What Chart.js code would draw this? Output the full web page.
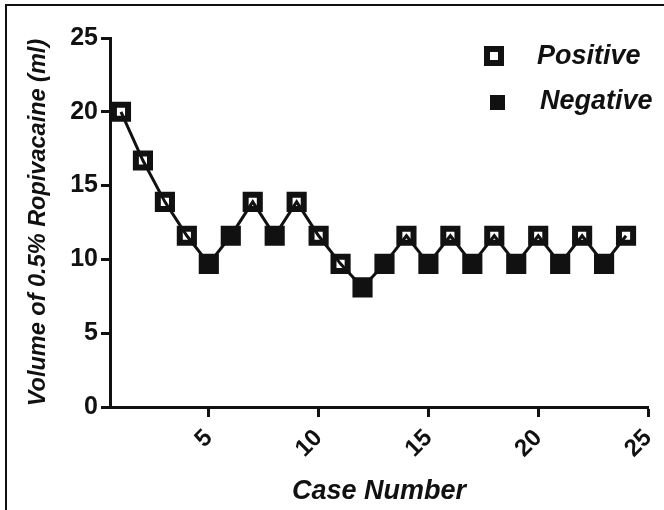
<!DOCTYPE html>
<html>
<head>
<meta charset="utf-8">
<script src="https://cdn.jsdelivr.net/npm/chart.js@4.4.1/dist/chart.umd.min.js"></script>
<style>
  html, body { margin: 0; padding: 0; background: #fff; }
  #wrap { width: 664px; height: 510px; }
</style>
</head>
<body>
<div id="wrap"><canvas id="upDownChart" width="664" height="510"></canvas></div>
<script>
var caseNumbers = [1, 2, 3, 4, 5, 6, 7, 8, 9, 10, 11, 12, 13, 14, 15, 16, 17, 18, 19, 20, 21, 22, 23, 24];
var volumes = [20, 16.7, 13.9, 11.6, 9.7, 11.6, 13.9, 11.6, 13.9, 11.6, 9.7, 8.1, 9.7, 11.6, 9.7, 11.6, 9.7, 11.6, 9.7, 11.6, 9.7, 11.6, 9.7, 11.6];
// P = positive block, N = negative block
var outcomes = ['P', 'P', 'P', 'P', 'N', 'N', 'P', 'N', 'P', 'P', 'P', 'N', 'N', 'P', 'N', 'P', 'N', 'P', 'N', 'P', 'N', 'P', 'N', 'P'];
var xTicks = [5, 10, 15, 20, 25];
var yTicks = [0, 5, 10, 15, 20, 25];

var FONT = '"Liberation Sans", Arial, sans-serif';

function pointsFor(code) {
    var out = [];
    caseNumbers.forEach(function (c, i) {
        if (outcomes[i] === code) out.push({ x: c, y: volumes[i] });
    });
    return out;
}

var allPoints = caseNumbers.map(function (c, i) { return { x: c, y: volumes[i] }; });

// legend at the top right + the frame on top/left edges
var sideLegend = {
    id: 'sideLegend',
    afterDraw: function (chart) {
        var ctx = chart.ctx;
        ctx.save();
        ctx.fillStyle = '#111';
        ctx.fillRect(5, 4, 659, 2);
        ctx.fillRect(5, 4, 2, 506);

        // Positive: hollow square
        ctx.fillRect(484, 46, 20, 20);
        ctx.fillStyle = '#fff';
        ctx.fillRect(490, 52, 8, 8);
        // Negative: filled square
        ctx.fillStyle = '#111';
        ctx.fillRect(490, 95, 15, 15);

        ctx.font = 'italic bold 27px ' + FONT;
        ctx.textBaseline = 'middle';
        ctx.textAlign = 'left';
        ctx.fillText(chart.data.datasets[0].label, 537, 57);
        ctx.fillText(chart.data.datasets[1].label, 540, 102);
        ctx.restore();
    }
};

new Chart(document.getElementById('upDownChart'), {
    type: 'scatter',
    data: {
        datasets: [{
                label: 'Positive',
                data: pointsFor('P'),
                pointStyle: 'rect',
                pointRadius: 10,
                pointHoverRadius: 10,
                borderWidth: 6,
                pointBorderWidth: 6,
                borderColor: '#111',
                backgroundColor: 'rgba(0,0,0,0)',
                showLine: false,
                order: 0
            },
            {
                label: 'Negative',
                data: pointsFor('N'),
                pointStyle: 'rect',
                pointRadius: 10,
                pointHoverRadius: 10,
                borderWidth: 6,
                pointBorderWidth: 6,
                borderColor: '#111',
                backgroundColor: '#111',
                showLine: false,
                order: 1
            },
            {
                label: 'Sequence',
                data: allPoints,
                showLine: true,
                borderColor: '#111',
                borderWidth: 3,
                pointRadius: 0,
                pointHoverRadius: 0,
                tension: 0,
                order: 2
            }
        ]
    },
    plugins: [sideLegend],
    options: {
        responsive: false,
        animation: false,
        events: [],
        layout: {
            padding: { left: 8, top: 38, right: 16, bottom: 0 }
        },
        plugins: {
            legend: { display: false },
            tooltip: { enabled: false },
            title: { display: false }
        },
        scales: {
            x: {
                type: 'linear',
                min: 0.5,
                max: 25,
                afterBuildTicks: function (scale) {
                    scale.ticks = xTicks.map(function (v) { return { value: v }; });
                },
                afterFit: function (scale) {
                    scale.height = 103;
                    scale.paddingLeft = 0;
                    scale.paddingRight = 0;
                },
                border: { display: true, color: '#111', width: 3 },
                grid: {
                    display: true,
                    drawOnChartArea: false,
                    drawTicks: true,
                    tickLength: 10,
                    tickWidth: 3,
                    tickColor: '#111'
                },
                ticks: {
                    minRotation: 45,
                    maxRotation: 45,
                    padding: 7,
                    color: '#111',
                    font: { family: FONT, size: 24, weight: 'bold' }
                },
                title: {
                    display: true,
                    text: 'Case Number',
                    color: '#111',
                    padding: { top: 0, bottom: 2 },
                    font: { family: FONT, size: 27, weight: 'bold', style: 'italic' }
                }
            },
            y: {
                min: 0,
                max: 25,
                afterBuildTicks: function (scale) {
                    scale.ticks = yTicks.map(function (v) { return { value: v }; });
                },
                afterFit: function (scale) { scale.width = 102; },
                border: { display: true, color: '#111', width: 3 },
                grid: {
                    display: true,
                    drawOnChartArea: false,
                    drawTicks: true,
                    tickLength: 9,
                    tickWidth: 3,
                    tickColor: '#111'
                },
                ticks: {
                    padding: 3,
                    color: '#111',
                    font: { family: FONT, size: 25, weight: 'bold' }
                },
                title: {
                    display: true,
                    text: 'Volume of 0.5% Ropivacaine (ml)',
                    color: '#111',
                    padding: { top: 16, bottom: 0 },
                    font: { family: FONT, size: 23.5, weight: 'bold', style: 'italic' }
                }
            }
        }
    }
});
</script>
</body>
</html>
